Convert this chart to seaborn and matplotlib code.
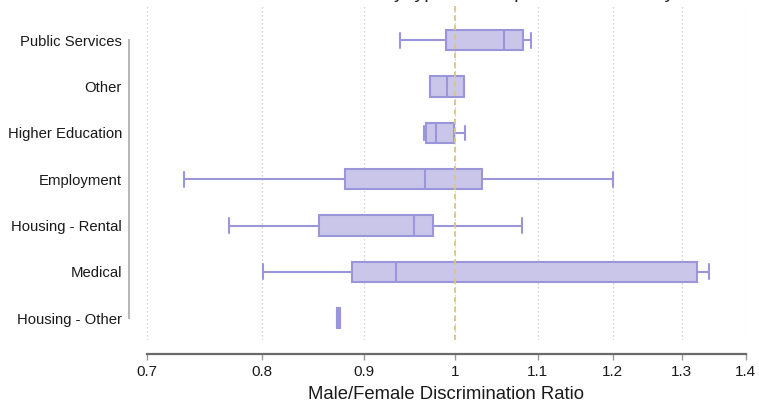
import numpy as np
import pandas as pd
import matplotlib
matplotlib.use("Agg")
import matplotlib.pyplot as plt
import seaborn as sns

# five-number summaries (min, q1, median, q3, max)
categories = ["Public Services", "Other", "Higher Education", "Employment",
              "Housing - Rental", "Medical", "Housing - Other"]
public_services = [0.938, 0.990, 1.058, 1.082, 1.092]
other = [0.971, 0.971, 0.991, 1.010, 1.010]
higher_education = [0.965, 0.967, 0.978, 0.999, 1.012]
employment = [0.731, 0.880, 0.966, 1.031, 1.200]
housing_rental = [0.770, 0.854, 0.953, 0.975, 1.080]
medical = [0.801, 0.887, 0.934, 1.323, 1.342]
housing_other = [0.872, 0.872, 0.8735, 0.875, 0.875]

xticks = [0.7, 0.8, 0.9, 1.0, 1.1, 1.2, 1.3, 1.4]
xticklabels = ["0.7", "0.8", "0.9", "1", "1.1", "1.2", "1.3", "1.4"]

values = [public_services, other, higher_education, employment,
          housing_rental, medical, housing_other]
df = pd.DataFrame({
    "type": np.repeat(categories, 5),
    "ratio": np.concatenate(values),
})

sns.set_style("white")
plt.rcParams['font.family'] = ['Liberation Sans', 'DejaVu Sans']

fig = plt.figure(figsize=(7.59, 4.04), dpi=100)
ax = fig.add_axes([0.1937, 0.1584, 0.789, 0.829])

fill = "#cac6ea"
edge = "#9b95d9"
sns.boxplot(data=df, x="ratio", y="type", order=categories, orient="h",
            color=fill, linecolor=edge, saturation=1, width=0.44,
            linewidth=1.5, whis=(0, 100), log_scale=True, ax=ax,
            capwidths=0.32)

ax.axvline(1.0, color="#e0c47e", ls="--", dashes=(3, 2.2), lw=1.3, zorder=6)

ax.set_xlim(0.7, 1.4)
ax.set_ylim(6.47, -0.76)
ax.set_xticks(xticks, xticklabels)
ax.xaxis.set_minor_locator(matplotlib.ticker.NullLocator())
ax.grid(axis="x", ls=":", dashes=(1, 2.2), color="#c8c8c8", lw=0.9)
ax.grid(axis="y", visible=False)
ax.set_axisbelow(True)

sns.despine(ax=ax, offset={"left": 13, "bottom": 10}, trim=True)
ax.spines["left"].set_color("#b5b5b5")
ax.spines["left"].set_linewidth(1.4)
ax.spines["bottom"].set_color("#6b6b6b")
ax.spines["bottom"].set_linewidth(1.6)

ax.tick_params(axis="y", left=False, length=0, pad=5, labelsize=10.7,
               labelcolor="#1a1a1a")
ax.tick_params(axis="x", bottom=True, length=4, width=1, color="#9a9a9a",
               pad=4, labelsize=11, labelcolor="#1a1a1a")
ax.set_ylabel("")
ax.set_xlabel("Male/Female Discrimination Ratio", fontsize=13.3, labelpad=5,
              color="#1a1a1a")

# title sits mostly above the canvas, as in the source image
fig.text(0.5, 1.006, "Male/Female Discrimination Ratio by type of Complaint and Industry",
         ha="center", va="baseline", fontsize=14)

fig.savefig("out.png", dpi=100)
